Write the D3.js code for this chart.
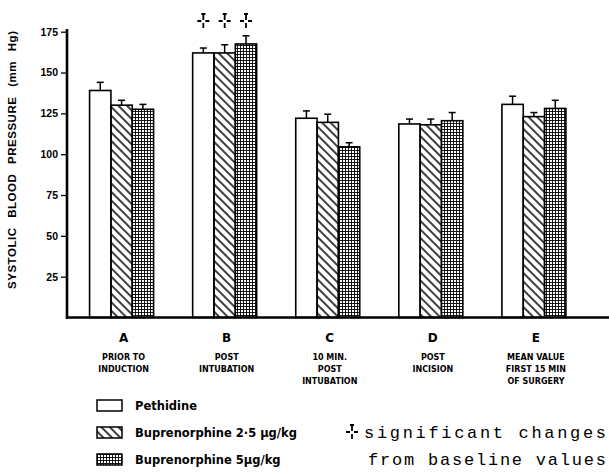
<!DOCTYPE html>
<html>
<head>
<meta charset="utf-8">
<script src="https://cdn.jsdelivr.net/npm/d3@7"></script>
<style>
  body { margin: 0; background: #fff; }
  svg { display: block; }
  .tick-label { font: bold 10.5px "Liberation Sans", Arial, sans-serif; }
  .cat { font: bold 12px "DejaVu Sans", sans-serif; }
  .sub { font: bold 8px "DejaVu Sans", sans-serif; }
  .leg { font: bold 11.5px "DejaVu Sans", sans-serif; }
  .mono { font: 17px "Liberation Mono", monospace; }
</style>
</head>
<body>
<div class="chart"></div>
<script>
var svgWidth = 609;
var svgHeight = 472;

// data (mm Hg)
var categories = ["A", "B", "C", "D", "E"];
var groupLabels = [
  ["PRIOR TO", "INDUCTION"],
  ["POST", "INTUBATION"],
  ["10 MIN.", "POST", "INTUBATION"],
  ["POST", "INCISION"],
  ["MEAN VALUE", "FIRST 15 MIN", "OF SURGERY"]
];
var seriesNames = ["Pethidine", "Buprenorphine 2\u00b75 \u00b5g/kg", "Buprenorphine 5\u00b5g/kg"];
var pethidine = [139, 162, 122, 118.5, 130.5];
var pethidineErr = [5, 3, 4.5, 3, 5];
var bup25 = [130, 162, 119.5, 118, 123];
var bup25Err = [3, 5, 5, 3.5, 2.5];
var bup5 = [127.5, 167.5, 104.5, 120.5, 128];
var bup5Err = [3, 5, 2.5, 5, 5];
var significant = ["B"];
var yTicks = [25, 50, 75, 100, 125, 150, 175];

var svg = d3.select(".chart")
  .append("svg")
  .attr("width", svgWidth)
  .attr("height", svgHeight);

// fill patterns
var defs = svg.append("defs");
defs.append("pattern")
  .attr("id", "hatch")
  .attr("patternUnits", "userSpaceOnUse")
  .attr("width", 6)
  .attr("height", 6)
  .attr("patternTransform", "rotate(-45)")
  .append("line")
  .attr("x1", 3).attr("y1", 0)
  .attr("x2", 3).attr("y2", 6)
  .attr("stroke", "#000")
  .attr("stroke-width", 1.5);

var dots = defs.append("pattern")
  .attr("id", "dots")
  .attr("patternUnits", "userSpaceOnUse")
  .attr("width", 3)
  .attr("height", 3);
dots.append("rect").attr("width", 3).attr("height", 3).attr("fill", "#fff");
dots.append("path")
  .attr("d", "M0,0.5H3M0.5,0V3")
  .attr("stroke", "#000")
  .attr("stroke-width", 0.9);

var fills = ["#fff", "url(#hatch)", "url(#dots)"];

// scales
var y = d3.scaleLinear().domain([0, 175]).range([317.5, 31.7]);
var x0 = d3.scaleBand()
  .domain(categories)
  .range([70, 585.5])
  .paddingInner(0.379)
  .paddingOuter(0.19);
var x1 = d3.scaleBand()
  .domain([0, 1, 2])
  .range([0, x0.bandwidth()]);

var values = [pethidine, bup25, bup5];
var errs = [pethidineErr, bup25Err, bup5Err];

var rows = [];
categories.forEach(function(c, i) {
  values.forEach(function(v, s) {
    rows.push({ cat: c, s: s, value: v[i], err: errs[s][i] });
  });
});

var chartGroup = svg.append("g");

// error bars (drawn first, bar outline covers the base)
var eb = chartGroup.selectAll(".err")
  .data(rows)
  .enter()
  .append("g")
  .attr("class", "err")
  .attr("stroke", "#000")
  .attr("stroke-width", 1.5);
eb.append("line")
  .attr("x1", d => x0(d.cat) + x1(d.s) + x1.bandwidth() / 2)
  .attr("x2", d => x0(d.cat) + x1(d.s) + x1.bandwidth() / 2)
  .attr("y1", d => y(d.value))
  .attr("y2", d => y(d.value + d.err));
eb.append("line")
  .attr("x1", d => x0(d.cat) + x1(d.s) + x1.bandwidth() / 2 - 3.5)
  .attr("x2", d => x0(d.cat) + x1(d.s) + x1.bandwidth() / 2 + 3.5)
  .attr("y1", d => y(d.value + d.err))
  .attr("y2", d => y(d.value + d.err));

// bars
chartGroup.selectAll(".bar")
  .data(rows)
  .enter()
  .append("rect")
  .attr("class", "bar")
  .attr("x", d => x0(d.cat) + x1(d.s))
  .attr("y", d => y(d.value))
  .attr("width", x1.bandwidth())
  .attr("height", d => y(0) - y(d.value))
  .attr("fill", d => fills[d.s])
  .attr("stroke", "#000")
  .attr("stroke-width", 1.6);

// significance marks
function sigMark(g, cx, cy) {
  g.append("path")
    .attr("d", `M${cx},${cy - 7}V${cy - 1}M${cx - 6},${cy}H${cx - 2}M${cx + 2},${cy}H${cx + 6}M${cx},${cy + 2}V${cy + 7}`)
    .attr("stroke", "#000")
    .attr("stroke-width", 1.8)
    .attr("fill", "none");
  g.append("rect")
    .attr("x", cx - 2).attr("y", cy - 8)
    .attr("width", 4).attr("height", 2)
    .attr("fill", "#000");
}
var sigGroup = chartGroup.append("g");
rows.filter(d => significant.indexOf(d.cat) >= 0).forEach(function(d) {
  sigMark(sigGroup, x0(d.cat) + x1(d.s) + x1.bandwidth() / 2, 21);
});

// y axis
var leftAxis = d3.axisLeft(y).tickValues(yTicks).tickSize(6).tickPadding(3);
var yAxis = chartGroup.append("g")
  .attr("transform", "translate(67,0)")
  .call(leftAxis);
yAxis.select(".domain").remove();
yAxis.selectAll(".tick line").attr("stroke", "#000").attr("stroke-width", 1.3);
yAxis.selectAll(".tick text").attr("class", "tick-label").attr("fill", "#000");

chartGroup.append("line")
  .attr("x1", 67).attr("x2", 67)
  .attr("y1", 29).attr("y2", 319)
  .attr("stroke", "#000")
  .attr("stroke-width", 2.6);

// x axis baseline
chartGroup.append("line")
  .attr("x1", 66).attr("x2", 609)
  .attr("y1", y(0)).attr("y2", y(0))
  .attr("stroke", "#000")
  .attr("stroke-width", 2.6);

// y label
chartGroup.append("text")
  .attr("transform", "translate(16,160)rotate(-90)")
  .attr("text-anchor", "middle")
  .attr("textLength", 258)
  .attr("lengthAdjust", "spacing")
  .style("font", "bold 11.5px 'Liberation Sans', Arial, sans-serif")
  .style("word-spacing", "6px")
  .attr("fill", "#000")
  .text("SYSTOLIC BLOOD PRESSURE (mm Hg)");

// category labels
var labelsGroup = chartGroup.selectAll(".catlabel")
  .data(categories)
  .enter()
  .append("g")
  .attr("class", "catlabel")
  .attr("transform", d => `translate(${x0(d) + x0.bandwidth() / 2 + 2},0)`);
labelsGroup.append("text")
  .attr("class", "cat")
  .attr("text-anchor", "middle")
  .attr("y", 342)
  .attr("fill", "#000")
  .text(d => d);
labelsGroup.each(function(d, i) {
  d3.select(this).selectAll(".sub")
    .data(groupLabels[i])
    .enter()
    .append("text")
    .attr("class", "sub")
    .attr("text-anchor", "middle")
    .attr("y", (t, j) => 360 + j * 12)
    .attr("fill", "#000")
    .text(t => t);
});

// legend
var legend = svg.append("g");
var legRows = legend.selectAll(".legrow")
  .data(seriesNames)
  .enter()
  .append("g")
  .attr("class", "legrow")
  .attr("transform", (d, i) => `translate(97,${400 + i * 27})`);
legRows.append("rect")
  .attr("width", 25)
  .attr("height", 11)
  .attr("fill", (d, i) => fills[i])
  .attr("stroke", "#000")
  .attr("stroke-width", 1.5);
legRows.append("text")
  .attr("class", "leg")
  .attr("x", 38)
  .attr("y", 10)
  .attr("fill", "#000")
  .text(d => d);

sigMark(legend, 352, 432);
legend.append("text")
  .attr("class", "mono")
  .attr("x", 364)
  .attr("y", 438)
  .attr("textLength", 242)
  .attr("lengthAdjust", "spacing")
  .attr("fill", "#000")
  .text("significant changes");
legend.append("text")
  .attr("class", "mono")
  .attr("x", 368)
  .attr("y", 465)
  .attr("textLength", 238)
  .attr("lengthAdjust", "spacing")
  .attr("fill", "#000")
  .text("from baseline values");
</script>
</body>
</html>
